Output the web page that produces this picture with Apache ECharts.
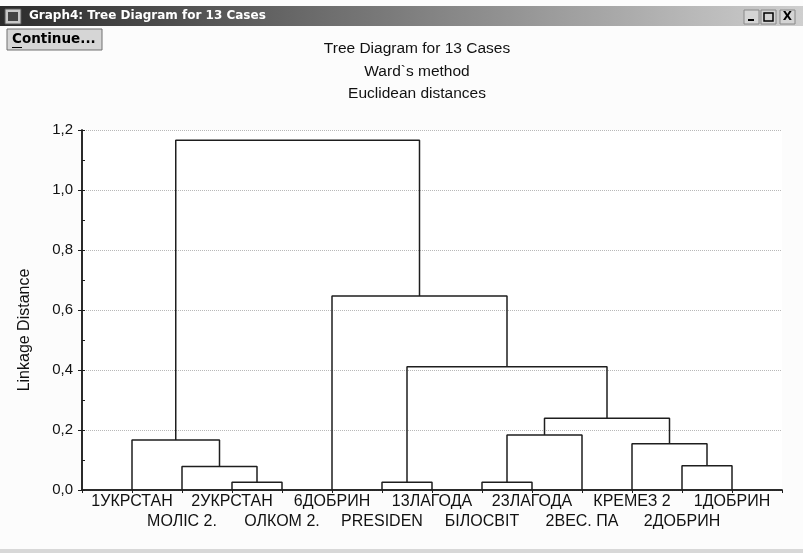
<!DOCTYPE html>
<html>
<head>
<meta charset="utf-8">
<script src="https://cdn.jsdelivr.net/npm/echarts@6/dist/echarts.min.js"></script>
<style>
html, body { margin: 0; padding: 0; background: #fcfcfc; }
#chart { width: 803px; height: 553px; }
</style>
</head>
<body>
<div id="chart"></div>
<script>
// leaves, in the order they stand on the axis
const leafNames = ['1УКРСТАН', 'МОЛІС 2.', '2УКРСТАН', 'ОЛКОМ 2.', '6ДОБРИН', 'PRESIDEN',
  '13ЛАГОДА', 'БІЛОСВІТ', '23ЛАГОДА', '2ВЕС. ПА', 'КРЕМЕЗ 2', '2ДОБРИН', '1ДОБРИН'];
// joins: ids 0..12 are leaves, 13.. are the joins below in order
const mergeLeft = [2, 1, 0, 5, 7, 17, 11, 10, 18, 16, 4, 15];
const mergeRight = [3, 13, 14, 6, 8, 9, 12, 19, 20, 21, 22, 23];
const mergeHeight = [0.026, 0.078, 0.167, 0.026, 0.026, 0.183, 0.081, 0.154, 0.239, 0.411, 0.647, 1.166];
const titleLines = ['Tree Diagram for 13 Cases', 'Ward`s method', 'Euclidean distances'];

// build the elbow links of the tree
const nodeX = leafNames.map((n, i) => i + 1);
const nodeH = leafNames.map(() => 0);
const links = [];
mergeLeft.forEach((a, i) => {
  const b = mergeRight[i];
  const h = mergeHeight[i];
  links.push([[nodeX[a], nodeH[a]], [nodeX[a], h], [nodeX[b], h], [nodeX[b], nodeH[b]]]);
  nodeX.push((nodeX[a] + nodeX[b]) / 2);
  nodeH.push(h);
});

const ink = '#1e1e1e';
const font = 'Liberation Sans';
const chart = echarts.init(document.getElementById('chart'));

const frameAxis = { lineStyle: { color: ink, width: 1.5 } };

chart.setOption({
  backgroundColor: '#fcfcfc',
  animation: false,
  textStyle: { fontFamily: font },
  grid: { left: 82, right: 21, top: 130, bottom: 63, show: true, backgroundColor: '#ffffff', borderWidth: 0 },
  xAxis: [{
    type: 'value', min: 0, max: leafNames.length + 1, interval: 1, position: 'bottom',
    axisLine: frameAxis, axisTick: { show: false }, splitLine: { show: false },
    axisLabel: {
      fontSize: 16, color: '#111', lineHeight: 20, margin: 2, fontFamily: font,
      formatter: v => {
        const i = Math.round(v) - 1;
        if (i < 0 || i >= leafNames.length) return '';
        return i % 2 ? '\n' + leafNames[i] : leafNames[i];
      }
    }
  }, {
    type: 'value', min: 0, max: leafNames.length + 1, interval: 1, position: 'top',
    axisLine: frameAxis, axisTick: { show: true, inside: true, length: 3, lineStyle: { color: ink } },
    axisLabel: { show: false }, splitLine: { show: false }
  }],
  yAxis: [{
    type: 'value', min: 0, max: 1.2, interval: 0.2, position: 'left',
    name: 'Linkage Distance', nameLocation: 'middle', nameGap: 49,
    nameTextStyle: { fontSize: 16, color: '#111', fontFamily: font, padding: [0, 40, 0, 0] },
    axisLine: { show: true, lineStyle: { color: ink, width: 1.5 } },
    axisTick: { show: true, inside: true, length: 3, lineStyle: { color: ink } },
    minorTick: { show: true, splitNumber: 2, length: 3, lineStyle: { color: ink } },
    axisLabel: { fontSize: 15, color: '#111', margin: 9, fontFamily: font, formatter: v => v.toFixed(1).replace('.', ',') },
    splitLine: { show: true, lineStyle: { color: '#b8b8b8', type: 'dotted', width: 1 } }
  }, {
    type: 'value', min: 0, max: 1.2, interval: 0.2, position: 'right',
    axisLine: { show: true, lineStyle: { color: ink, width: 1.5 } },
    axisTick: { show: true, inside: true, length: 4, lineStyle: { color: ink } },
    axisLabel: { show: false }, splitLine: { show: false }
  }],
  series: links.map(d => ({
    type: 'line', data: d, symbol: 'none', silent: true,
    lineStyle: { color: ink, width: 1.5 }
  })),
  graphic: [
    // window title bar
    { type: 'rect', shape: { x: 0, y: 6, width: 803, height: 20 },
      style: { fill: new echarts.graphic.LinearGradient(0, 0, 1, 0, [
        { offset: 0, color: '#2b2b2b' }, { offset: 1, color: '#cfcfcf' }]) } },
    { type: 'rect', shape: { x: 5, y: 9, width: 16, height: 15 }, style: { fill: '#c8c8c8', stroke: '#555' } },
    { type: 'rect', shape: { x: 8, y: 12, width: 10, height: 9 }, style: { fill: '#444' } },
    { type: 'text', style: { text: 'Graph4: Tree Diagram for 13 Cases', x: 29, y: 16, textVerticalAlign: 'middle',
      font: 'bold 12px "DejaVu Sans"', fill: '#ffffff' } },
    { type: 'rect', shape: { x: 744, y: 10, width: 15, height: 14 }, style: { fill: '#d4d4d4', stroke: '#888' } },
    { type: 'rect', shape: { x: 761, y: 10, width: 15, height: 14 }, style: { fill: '#d4d4d4', stroke: '#888' } },
    { type: 'rect', shape: { x: 780, y: 10, width: 15, height: 14 }, style: { fill: '#d4d4d4', stroke: '#888' } },
    { type: 'rect', shape: { x: 748, y: 19, width: 6, height: 2 }, style: { fill: '#000' } },
    { type: 'rect', shape: { x: 764, y: 13, width: 9, height: 8 }, style: { fill: 'none', stroke: '#000', lineWidth: 1.5 } },
    { type: 'text', style: { text: 'X', x: 787.5, y: 17, textAlign: 'center', textVerticalAlign: 'middle',
      font: 'bold 12px "DejaVu Sans"', fill: '#000' } },
    // Continue button
    { type: 'rect', shape: { x: 7, y: 29, width: 95, height: 21 },
      style: { fill: '#d6d6d6', stroke: '#707070', lineWidth: 1 } },
    { type: 'text', style: { text: 'Continue...', x: 12, y: 39.5, textVerticalAlign: 'middle',
      font: 'bold 13.5px "DejaVu Sans"', fill: '#000' } },
    { type: 'rect', shape: { x: 12, y: 47, width: 10, height: 1 }, style: { fill: '#000' } },
    // chart titles
    ...titleLines.map((t, i) => ({ type: 'text', style: { text: t, x: 417, y: 49 + i * 22.5,
      textAlign: 'center', textVerticalAlign: 'middle', font: '15.5px "Liberation Sans"', fill: '#111' } })),
    // bottom strip
    { type: 'rect', shape: { x: 0, y: 549, width: 803, height: 4 }, style: { fill: '#d8d8d8' } }
  ]
});
</script>
</body>
</html>
